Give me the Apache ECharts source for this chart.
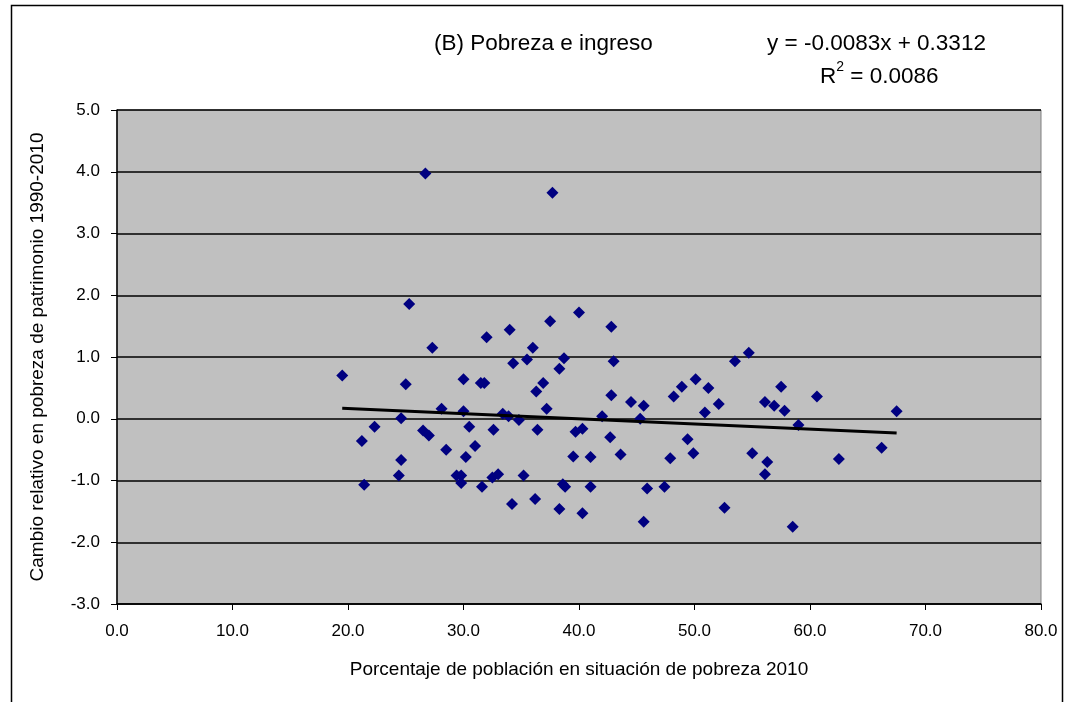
<!DOCTYPE html>
<html>
<head>
<meta charset="utf-8">
<script src="https://cdn.jsdelivr.net/npm/echarts@6/dist/echarts.min.js"></script>
<style>
html,body{margin:0;padding:0;background:#fff;}
#c{width:1066px;height:702px;}
</style>
</head>
<body>
<div id="c"></div>
<script>
// Percentage of population in poverty 2010 (x)
const povertyPct = [19.5,21.2,21.4,22.3,24.4,24.6,24.6,25.0,25.3,26.5,26.7,27.0,27.3,28.1,28.5,29.4,29.8,29.8,30.0,30.0,30.2,30.5,31.0,31.5,31.6,31.8,32.0,32.5,32.6,33.0,33.4,33.9,34.0,34.2,34.3,34.8,35.2,35.5,36.0,36.2,36.3,36.4,36.9,37.2,37.5,37.7,38.3,38.3,38.6,38.8,38.7,39.5,39.7,40.0,40.3,40.3,41.0,41.0,42.0,42.7,42.8,42.8,43.0,43.6,44.5,45.3,45.6,45.6,45.9,47.4,47.9,48.2,48.9,49.4,49.9,50.1,50.9,51.2,52.1,52.6,53.5,54.7,55.0,56.1,56.1,56.3,56.9,57.5,57.8,58.5,59.0,60.6,62.5,66.2,67.5];
// Relative change in patrimony poverty 1990-2010 (y)
const relChange = [0.70,-0.36,-1.07,-0.13,-0.92,-0.67,0.01,0.56,1.86,-0.19,3.97,-0.27,1.15,0.16,-0.50,-0.92,-0.92,-1.04,0.64,0.12,-0.62,-0.13,-0.44,0.58,-1.10,0.58,1.32,-0.95,-0.18,-0.90,0.08,0.04,1.44,-1.38,0.90,-0.02,-0.92,0.96,1.15,-1.30,0.44,-0.18,0.58,0.16,1.58,3.66,0.81,-1.46,-1.06,-1.10,0.98,-0.61,-0.21,1.72,-0.16,-1.53,-0.62,-1.10,0.04,-0.30,1.49,0.38,0.93,-0.58,0.27,0.00,0.21,-1.67,-1.13,-1.10,-0.64,0.36,0.52,-0.33,-0.56,0.64,0.10,0.50,0.24,-1.44,0.93,1.07,-0.56,0.27,-0.90,-0.70,0.21,0.52,0.13,-1.75,-0.10,0.36,-0.65,-0.47,0.12];
// Linear trend coefficients as printed on the chart
const trendSlope = [-0.0083];
const trendIntercept = [0.3312];
const trendR2 = [0.0086];
const xTicks = [0,10,20,30,40,50,60,70,80];
const yTicks = [-3,-2,-1,0,1,2,3,4,5];

const pts = povertyPct.map((x,i)=>[x, relChange[i]]);
const xMin = Math.min(...povertyPct), xMax = Math.max(...povertyPct);
const trend = [[xMin, trendSlope[0]*xMin + trendIntercept[0]], [xMax, trendSlope[0]*xMax + trendIntercept[0]]];

const FONT = 'Liberation Sans, Arial, sans-serif';
const chart = echarts.init(document.getElementById('c'));
chart.setOption({
  backgroundColor: '#ffffff',
  animation: false,
  graphic: [{
    type: 'rect', left: 9, top: 3, shape: {width: 1051, height: 710},
    style: {fill: 'none', stroke: '#000', lineWidth: 1.5}, silent: true, z: -10
  }],
  title: [
    {text: '(B) Pobreza e ingreso', left: 429, top: 27, textStyle: {fontFamily: FONT, fontSize: 22.5, fontWeight: 'normal', color: '#000'}},
    {text: 'y = ' + trendSlope[0].toFixed(4) + 'x + ' + trendIntercept[0].toFixed(4), left: 762, top: 27, textStyle: {fontFamily: FONT, fontSize: 22.5, fontWeight: 'normal', color: '#000'}},
    {text: '{a|R}{s|2}{a| = ' + trendR2[0].toFixed(4) + '}', left: 815, top: 55,
     textStyle: {fontWeight: 'normal', rich: {a: {fontFamily: FONT, fontSize: 22.5, fontWeight: 'normal', color: '#000', verticalAlign: 'bottom', lineHeight: 28}, s: {fontFamily: FONT, fontSize: 14, fontWeight: 'normal', color: '#000', verticalAlign: 'top', lineHeight: 28}}}}
  ],
  grid: {left: 117, right: 25, top: 110, bottom: 98, show: true, backgroundColor: '#C0C0C0', borderColor: '#808080', borderWidth: 1},
  xAxis: {
    type: 'value', min: xTicks[0], max: xTicks[xTicks.length-1], interval: 10,
    name: 'Porcentaje de población en situación de pobreza 2010', nameLocation: 'middle', nameGap: 56,
    nameTextStyle: {fontFamily: FONT, fontSize: 19, color: '#000'},
    axisLine: {show: true, onZero: false, lineStyle: {color: '#000', width: 1.5}},
    axisTick: {show: true, length: 6, lineStyle: {color: '#000'}},
    axisLabel: {fontFamily: FONT, fontSize: 17, color: '#000', margin: 19, formatter: v => v.toFixed(1)},
    splitLine: {show: false}
  },
  yAxis: {
    type: 'value', min: yTicks[0], max: yTicks[yTicks.length-1], interval: 1,
    name: 'Cambio relativo en pobreza de patrimonio 1990-2010', nameLocation: 'middle', nameGap: 70, nameRotate: 90,
    nameTextStyle: {fontFamily: FONT, fontSize: 19, color: '#000'},
    axisLine: {show: true, onZero: false, lineStyle: {color: '#000', width: 1.5}},
    axisTick: {show: true, length: 6, lineStyle: {color: '#000'}},
    axisLabel: {fontFamily: FONT, fontSize: 17, color: '#000', margin: 17, formatter: v => v.toFixed(1)},
    splitLine: {show: true, lineStyle: {color: '#000', width: 1.5}}
  },
  series: [
    {type: 'scatter', data: pts, symbol: 'diamond', symbolSize: 12, itemStyle: {color: '#000080', opacity: 1}, z: 3},
    {type: 'line', data: trend, symbol: 'none', lineStyle: {color: '#000', width: 3}, z: 4, silent: true}
  ]
});
</script>
</body>
</html>
